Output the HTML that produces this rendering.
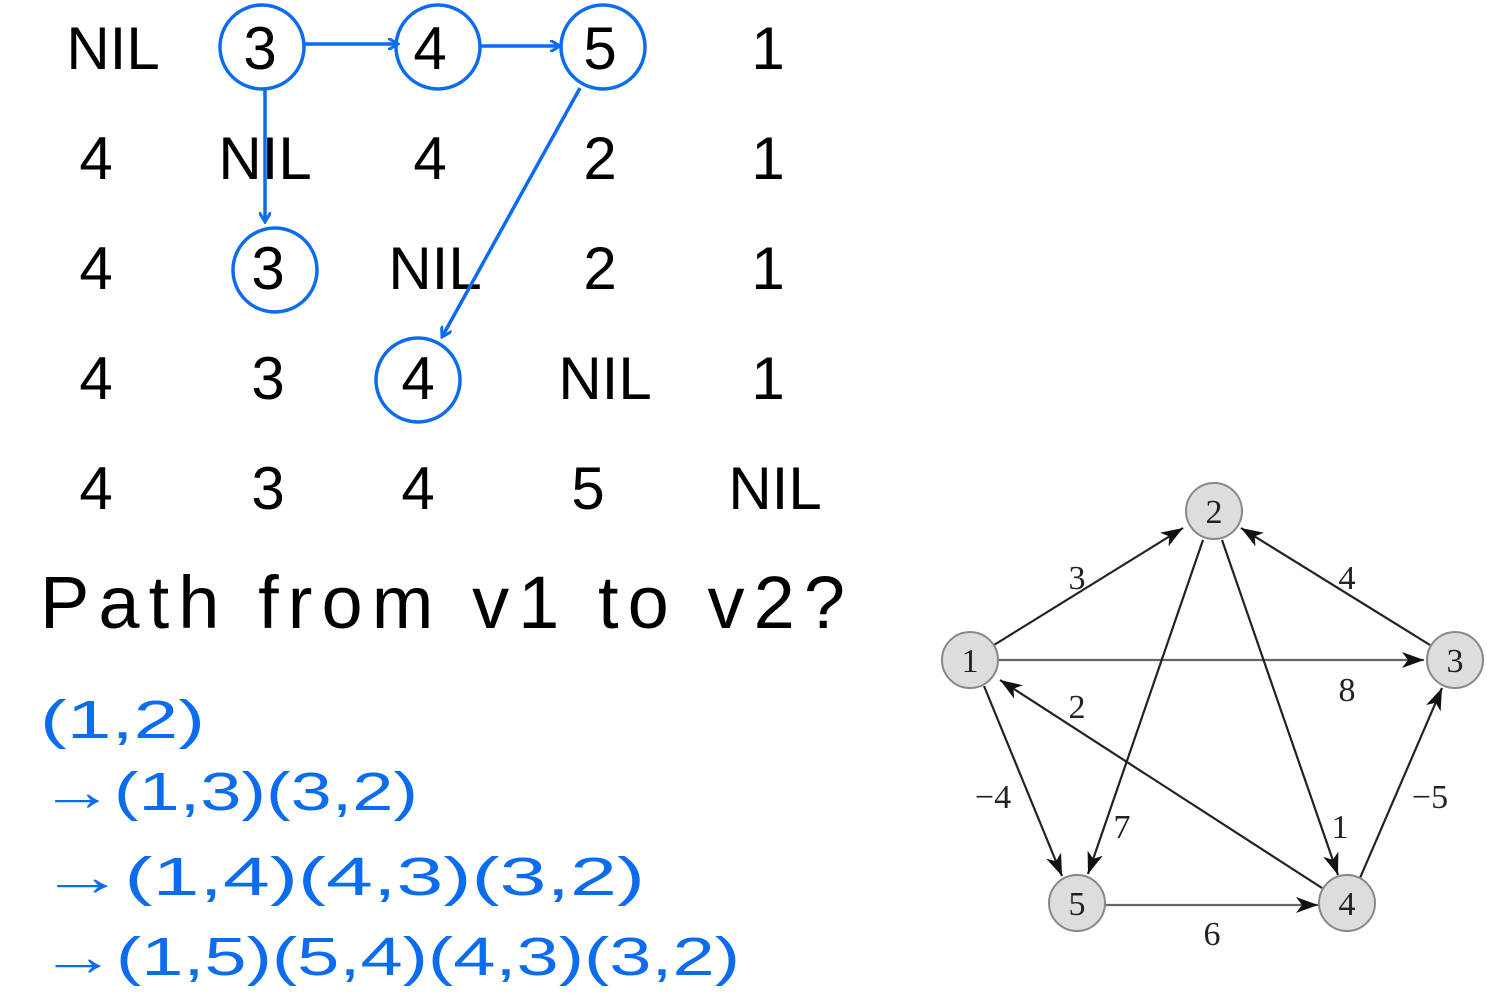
<!DOCTYPE html>
<html><head><meta charset="utf-8"><style>
body{margin:0;background:#fff;}
svg{display:block}
.m{font-family:"Liberation Sans",sans-serif;font-size:60px;fill:#000;text-anchor:middle}
.g{font-family:"Liberation Serif",serif;font-size:34px;fill:#222;text-anchor:middle}
.h{font-family:"Liberation Sans",sans-serif;fill:#000}
.b{font-family:"Liberation Sans",sans-serif;fill:#0b6cf0;font-size:54px}
</style></head><body>
<svg width="1495" height="1000" viewBox="0 0 1495 1000" xmlns="http://www.w3.org/2000/svg">
<defs>
<marker id="ba" markerWidth="12" markerHeight="12" refX="10" refY="6" orient="auto" markerUnits="userSpaceOnUse"><path d="M0,0 L10,6 L0,12" fill="none" stroke="#0b6cf0" stroke-width="3"/></marker>
<marker id="ga" markerWidth="24" markerHeight="16" refX="22" refY="8" orient="auto" markerUnits="userSpaceOnUse"><path d="M0,0 L22,8 L0,16 L6,8z" fill="#111"/></marker>
</defs>
<g class="m">
<text x="113" y="69">NIL</text><text x="260" y="69">3</text><text x="430" y="69">4</text><text x="600" y="69">5</text><text x="768" y="69">1</text>
<text x="96" y="179">4</text><text x="265" y="179">NIL</text><text x="430" y="179">4</text><text x="600" y="179">2</text><text x="768" y="179">1</text>
<text x="96" y="289">4</text><text x="268" y="289">3</text><text x="435" y="289">NIL</text><text x="600" y="289">2</text><text x="768" y="289">1</text>
<text x="96" y="399">4</text><text x="268" y="399">3</text><text x="418" y="399">4</text><text x="605" y="399">NIL</text><text x="768" y="399">1</text>
<text x="96" y="509">4</text><text x="268" y="509">3</text><text x="418" y="509">4</text><text x="588" y="509">5</text><text x="775" y="509">NIL</text>
</g>
<g fill="none" stroke="#0b6cf0" stroke-width="3.5">
<circle cx="262" cy="47" r="42"/><circle cx="438" cy="47" r="42"/><circle cx="603" cy="47" r="42"/>
<circle cx="275" cy="270" r="42"/><circle cx="418" cy="380" r="42"/>
<line x1="305" y1="44" x2="398" y2="44" marker-end="url(#ba)"/>
<line x1="480" y1="46" x2="560" y2="46" marker-end="url(#ba)"/>
<line x1="265" y1="90" x2="265" y2="222" marker-end="url(#ba)"/>
<line x1="580" y1="88" x2="442" y2="337" marker-end="url(#ba)"/>
</g>
<text class="h" x="40" y="628" font-size="74" font-weight="300" textLength="805" lengthAdjust="spacing">Path from v1 to v2?</text>
<text class="b" x="40" y="738" textLength="165" lengthAdjust="spacingAndGlyphs">(1,2)</text>
<text class="b" x="40" y="810" textLength="378" lengthAdjust="spacingAndGlyphs">→(1,3)(3,2)</text>
<text class="b" x="40" y="895" textLength="605" lengthAdjust="spacingAndGlyphs">→(1,4)(4,3)(3,2)</text>
<text class="b" x="40" y="975" textLength="700" lengthAdjust="spacingAndGlyphs">→(1,5)(5,4)(4,3)(3,2)</text>
<g stroke="#222" stroke-width="2.2" fill="none">
<line x1="994" y1="645" x2="1183" y2="528" marker-end="url(#ga)"/>
<line x1="1430" y1="645" x2="1241" y2="528" marker-end="url(#ga)"/>
<line x1="999" y1="660" x2="1424" y2="660" stroke="#666" marker-end="url(#ga)"/>
<line x1="1322" y1="888" x2="1000" y2="680" marker-end="url(#ga)"/>
<line x1="984" y1="686" x2="1062" y2="876" marker-end="url(#ga)"/>
<line x1="1203" y1="540" x2="1088" y2="874" marker-end="url(#ga)"/>
<line x1="1222" y1="540" x2="1338" y2="875" marker-end="url(#ga)"/>
<line x1="1360" y1="878" x2="1442" y2="688" marker-end="url(#ga)"/>
<line x1="1105" y1="905" x2="1318" y2="905" stroke="#666" marker-end="url(#ga)"/>
</g>
<g fill="#ddd" stroke="#888" stroke-width="2">
<circle cx="970" cy="660" r="28"/><circle cx="1214" cy="511" r="28"/><circle cx="1455" cy="660" r="28"/>
<circle cx="1347" cy="903" r="28"/><circle cx="1077" cy="903" r="28"/>
</g>
<g class="g">
<text x="970" y="672">1</text><text x="1214" y="523">2</text><text x="1455" y="672">3</text><text x="1347" y="915">4</text><text x="1077" y="915">5</text>
<text x="1077" y="589">3</text><text x="1347" y="589">4</text><text x="1347" y="701">8</text><text x="1077" y="718">2</text>
<text x="993" y="808">−4</text><text x="1122" y="838">7</text><text x="1340" y="838">1</text><text x="1430" y="808">−5</text><text x="1212" y="945">6</text>
</g>
</svg>
</body></html>
